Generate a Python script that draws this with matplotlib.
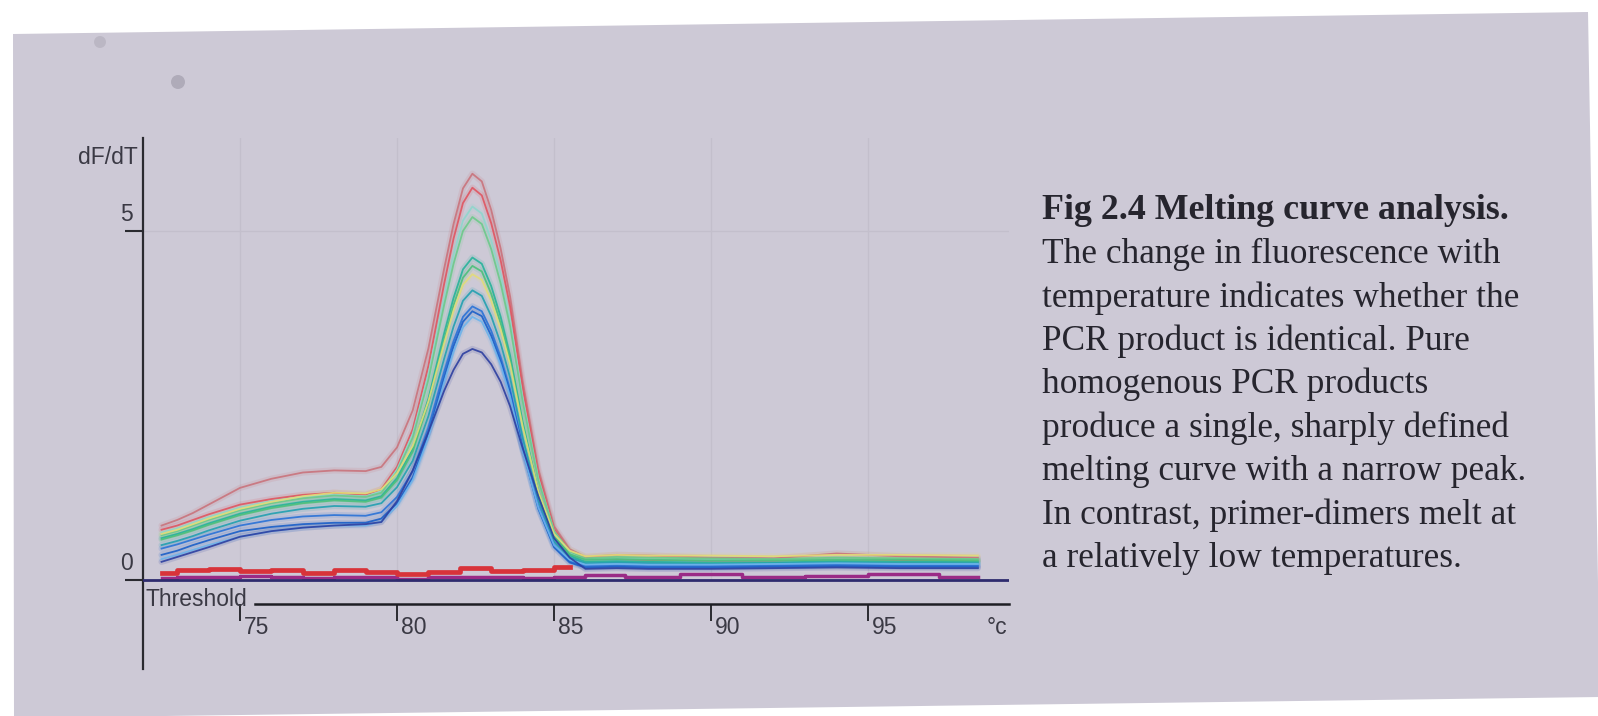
import matplotlib.pyplot as plt
from matplotlib.patches import Polygon, Ellipse
from matplotlib.transforms import ScaledTranslation

# temperatures (deg C) the curves were read at
temps = [72.5, 73, 73.5, 74, 75, 76, 77, 78, 79, 79.5, 80, 80.5, 81, 81.5, 81.8, 82.1, 82.4,
         82.7, 83.0, 83.3, 83.6, 84, 84.5, 85, 85.5, 86, 87, 88, 90, 92, 94, 96, 98.5]

# dF/dT values for each sample
red_top = [0.78, 0.86, 0.96, 1.08, 1.32, 1.45, 1.54, 1.57, 1.56, 1.62, 1.90, 2.43, 3.32, 4.46, 5.10, 5.61, 5.82,
           5.71, 5.30, 4.75, 4.06, 2.85, 1.59, 0.77, 0.44, 0.33, 0.36, 0.35, 0.32, 0.31, 0.38, 0.34, 0.32]
red_second = [0.72, 0.78, 0.86, 0.94, 1.08, 1.16, 1.22, 1.25, 1.22, 1.30, 1.62, 2.16, 3.07, 4.24, 4.89, 5.40, 5.62,
              5.51, 5.11, 4.58, 3.92, 2.75, 1.52, 0.73, 0.41, 0.30, 0.30, 0.29, 0.28, 0.28, 0.30, 0.29, 0.28]
teal_light = [0.68, 0.74, 0.82, 0.90, 1.04, 1.13, 1.19, 1.22, 1.20, 1.27, 1.58, 2.09, 2.94, 4.04, 4.66, 5.15, 5.35,
              5.25, 4.87, 4.37, 3.73, 2.62, 1.46, 0.70, 0.40, 0.30, 0.31, 0.30, 0.29, 0.29, 0.30, 0.30, 0.29]
green_a = [0.64, 0.70, 0.78, 0.86, 1.00, 1.10, 1.17, 1.21, 1.19, 1.25, 1.55, 2.04, 2.87, 3.94, 4.53, 5.00, 5.20,
           5.10, 4.74, 4.25, 3.64, 2.56, 1.43, 0.70, 0.41, 0.31, 0.33, 0.32, 0.31, 0.30, 0.32, 0.31, 0.30]
teal_green = [0.60, 0.66, 0.73, 0.81, 0.95, 1.05, 1.12, 1.16, 1.14, 1.20, 1.46, 1.88, 2.60, 3.53, 4.04, 4.45, 4.62,
              4.53, 4.21, 3.77, 3.22, 2.27, 1.26, 0.61, 0.35, 0.26, 0.27, 0.26, 0.25, 0.25, 0.27, 0.26, 0.26]
green_b = [0.58, 0.64, 0.71, 0.79, 0.93, 1.03, 1.10, 1.14, 1.12, 1.18, 1.43, 1.84, 2.54, 3.44, 3.94, 4.33, 4.50,
           4.42, 4.10, 3.68, 3.15, 2.23, 1.26, 0.63, 0.37, 0.29, 0.30, 0.29, 0.28, 0.28, 0.29, 0.29, 0.28]
yellow = [0.66, 0.72, 0.80, 0.88, 1.02, 1.12, 1.20, 1.25, 1.24, 1.30, 1.53, 1.92, 2.56, 3.39, 3.86, 4.23, 4.38,
          4.30, 4.00, 3.59, 3.09, 2.20, 1.27, 0.66, 0.42, 0.34, 0.36, 0.35, 0.35, 0.34, 0.36, 0.36, 0.35]
teal = [0.50, 0.56, 0.63, 0.71, 0.85, 0.95, 1.02, 1.06, 1.05, 1.10, 1.33, 1.71, 2.35, 3.17, 3.63, 4.00, 4.15,
        4.07, 3.78, 3.39, 2.90, 2.04, 1.14, 0.55, 0.32, 0.24, 0.25, 0.24, 0.23, 0.24, 0.25, 0.24, 0.24]
blue_a = [0.45, 0.51, 0.58, 0.65, 0.78, 0.86, 0.91, 0.93, 0.92, 0.97, 1.19, 1.56, 2.18, 2.98, 3.42, 3.77, 3.92,
          3.85, 3.57, 3.19, 2.73, 1.91, 1.06, 0.50, 0.27, 0.20, 0.21, 0.20, 0.20, 0.21, 0.22, 0.21, 0.21]
blue_b = [0.36, 0.42, 0.50, 0.57, 0.70, 0.76, 0.80, 0.82, 0.82, 0.88, 1.10, 1.47, 2.10, 2.90, 3.35, 3.70, 3.85,
          3.78, 3.50, 3.13, 2.68, 1.87, 1.02, 0.47, 0.25, 0.18, 0.19, 0.18, 0.18, 0.19, 0.20, 0.19, 0.19]
blue_light = [0.30, 0.36, 0.43, 0.50, 0.62, 0.70, 0.75, 0.78, 0.78, 0.84, 1.06, 1.43, 2.04, 2.83, 3.27, 3.62, 3.77,
              3.70, 3.43, 3.08, 2.63, 1.85, 1.04, 0.50, 0.29, 0.22, 0.23, 0.22, 0.22, 0.23, 0.24, 0.23, 0.23]
blue_dark = [0.26, 0.33, 0.40, 0.47, 0.62, 0.70, 0.75, 0.78, 0.80, 0.83, 1.13, 1.57, 2.12, 2.71, 3.01, 3.24, 3.31,
             3.26, 3.09, 2.84, 2.49, 1.89, 1.20, 0.60, 0.32, 0.16, 0.17, 0.16, 0.16, 0.17, 0.18, 0.17, 0.17]

curves = [red_top, red_second, teal_light, green_a, teal_green, green_b,
          yellow, teal, blue_a, blue_b, blue_light, blue_dark]
curve_colors = ['#c9737c', '#e05560', '#8fd6cc', '#6cc98a', '#27b39a', '#4cc07a',
                '#e2dc78', '#22a0b0', '#2a72d6', '#1a5fc8', '#6db4ec', '#2d3fa0']

# primer-dimer traces near zero (stepped)
ntc_red_temps = [72.5, 73.5, 74.5, 75.5, 76.5, 77.5, 78.5, 79.5, 80.5, 81.5, 82.5, 83.5, 84.5, 85.5]
ntc_red = [0.10, 0.14, 0.16, 0.13, 0.15, 0.10, 0.15, 0.12, 0.08, 0.12, 0.17, 0.13, 0.14, 0.18]
ntc_temps = [72.5, 73.5, 74.5, 75.5, 76.5, 77.5, 78.5, 79.5, 80.5, 81.5, 82.5,
             83.5, 84.5, 85.5, 86.5, 88, 90, 92, 94, 96, 98.5]
ntc_purple = [0.03, 0.05, 0.04, 0.06, 0.04, 0.03, 0.05, 0.04, 0.02, 0.04, 0.05,
              0.04, 0.03, 0.05, 0.07, 0.04, 0.08, 0.05, 0.06, 0.09, 0.05]

x_ticks = [75, 80, 85, 90, 95]
x_labels = ['75', '80', '85', '90', '95']
y_ticks = [0, 5]
y_labels = ['0', '5']

caption = ['The change in fluorescence with',
           'temperature indicates whether the',
           'PCR product is identical. Pure',
           'homogenous PCR products',
           'produce a single, sharply defined',
           'melting curve with a narrow peak.',
           'In contrast, primer-dimers melt at',
           'a relatively low temperatures.']

W, H = 1598, 716
fig = plt.figure(figsize=(W / 100, H / 100), dpi=100)
fig.patch.set_facecolor('white')

# the photographed page, slightly skewed, with two smudges
page = [(13, 34), (1588, 12), (1600, 697), (14, 718)]
fig.patches.append(Polygon([(x / W, 1 - y / H) for x, y in page], closed=True,
                           transform=fig.transFigure, facecolor='#cdc9d6', edgecolor='none', zorder=-2))
for (cx, cy, r, a) in [(100, 42, 6, 0.5), (178, 82, 7, 0.85)]:
    fig.patches.append(Ellipse((cx / W, 1 - cy / H), 2 * r / W, 2 * r / H, transform=fig.transFigure,
                               facecolor='#aaa6b4', edgecolor='none', alpha=a, zorder=-1))

ax = fig.add_axes([143 / W, 1 - 669 / H, 866 / W, 531 / H])
ax.set_facecolor('none')
ax.set_xlim(71.91, 99.49)
ax.set_ylim(-1.275, 6.332)

grid_col = '#c3bfcc'
ax.vlines(x_ticks, 0, 6.4, color=grid_col, lw=1, zorder=1)
ax.axhline(5, color=grid_col, lw=1, zorder=1)

for vals, col in zip(curves, curve_colors):
    ax.plot(temps, vals, color=col, lw=4.5, alpha=0.15, zorder=2, solid_capstyle='round')
    ax.plot(temps, vals, color=col, lw=1.3, alpha=0.9, zorder=3)

ax.plot(ntc_temps, ntc_purple, drawstyle='steps-mid', color='#9a2b86', lw=2.5, zorder=3)
ax.plot(ntc_red_temps, ntc_red, drawstyle='steps-mid', color='#d8333a', lw=3.4, zorder=4)

ax.axhline(0, color='#2e2b6e', lw=2, zorder=5)

txt_col = '#3a3944'
for s in ['top', 'right']:
    ax.spines[s].set_visible(False)
ax.spines['left'].set_color('#2a2a30')
ax.spines['left'].set_linewidth(1.6)
ax.spines['bottom'].set_color('#1e1e24')
ax.spines['bottom'].set_linewidth(1.8)
ax.spines['bottom'].set_position(('data', -0.34))
ax.spines['bottom'].set_bounds(75.48, 99.49)

ax.set_xticks(x_ticks, x_labels)
ax.set_yticks(y_ticks, y_labels)
ax.tick_params(axis='x', direction='out', length=12, width=1.4, pad=-3,
               labelsize=16.5, labelcolor=txt_col, color='#2a2a30')
ax.tick_params(axis='y', direction='out', length=13, width=1.5, pad=-6,
               labelsize=16.5, labelcolor=txt_col, color='#2a2a30')
for lab in ax.get_xticklabels():
    lab.set_ha('left')
    lab.set_fontfamily('Liberation Sans')
    lab.set_transform(lab.get_transform() + ScaledTranslation(0.04, 0, fig.dpi_scale_trans))
for lab in ax.get_yticklabels():
    lab.set_va('bottom')
    lab.set_fontfamily('Liberation Sans')
    lab.set_transform(lab.get_transform() + ScaledTranslation(0, 0.05, fig.dpi_scale_trans))

ax.text(72.0, -0.28, 'Threshold', fontsize=16.5, family='Liberation Sans', color=txt_col,
        ha='left', va='center')
ax.text(99.1, -0.68, '\u00b0c', fontsize=16.5, family='Liberation Sans', color=txt_col,
        ha='center', va='center')
fig.text(138 / W, 1 - 158 / H, 'dF/dT', fontsize=16.5, family='Liberation Sans', color=txt_col,
         ha='right', va='center')

cap_x = 1042 / W
fig.text(cap_x, 1 - 211 / H, 'Fig 2.4 Melting curve analysis.', fontsize=25.8,
         family='Liberation Serif', weight='bold', color='#26252e', ha='left', va='center')
for i, line in enumerate(caption):
    fig.text(cap_x, 1 - (211 + 43.4 * (i + 1)) / H, line, fontsize=25.4,
             family='Liberation Serif', color='#26252e', ha='left', va='center')

fig.savefig('out.png', dpi=100)
